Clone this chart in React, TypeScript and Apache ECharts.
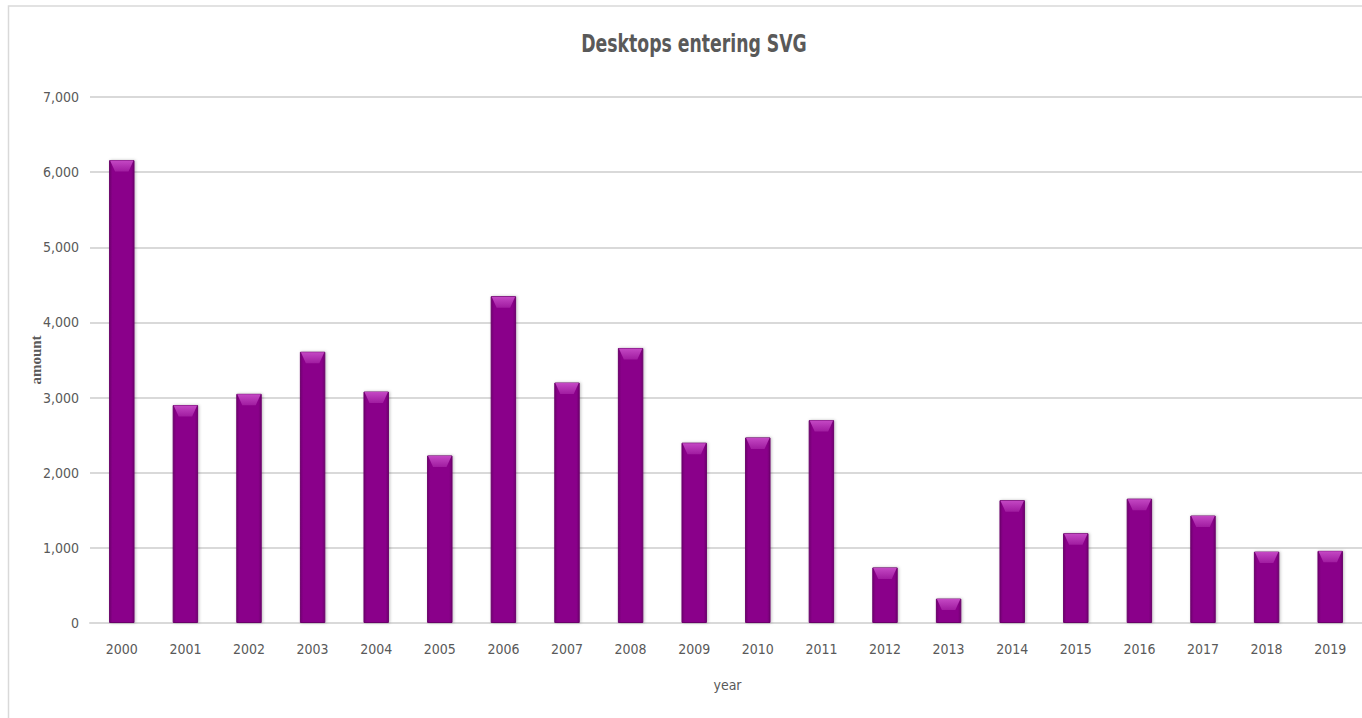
import React, { useEffect, useRef } from "react";
import * as echarts from "echarts";

const years = ["2000","2001","2002","2003","2004","2005","2006","2007","2008","2009","2010","2011","2012","2013","2014","2015","2016","2017","2018","2019"];
const amounts = [6160, 2900, 3050, 3610, 3080, 2230, 4350, 3200, 3660, 2400, 2470, 2700, 740, 325, 1635, 1195, 1655, 1430, 950, 960];
const yTicks = { min: 0, max: 7000, interval: 1000 };
const titleText = "Desktops entering SVG";
const xName = "year";
const yName = "amount";

const labelFont = "'Liberation Sans Narrow', 'DejaVu Sans Condensed', 'Open Sans', sans-serif";

export default function App() {
  const ref = useRef<HTMLDivElement>(null);
  useEffect(() => {
    if (!ref.current) return;
    const chart = echarts.init(ref.current, null, { renderer: "svg" });
    const gridLeft = 90;
    const gridTop = 97;
    const gridWidth = 1275;
    const gridHeight = 526;
    chart.setOption({
      animation: false,
      backgroundColor: "#ffffff",
      grid: { left: gridLeft, top: gridTop, width: gridWidth, height: gridHeight },
      graphic: [
        {
          type: "rect",
          shape: { x: 8.5, y: 6, width: 1420, height: 800 },
          style: { fill: "none", stroke: "#d9d9d9", lineWidth: 1.5 },
          silent: true,
          z: 0,
        },
        {
          type: "text",
          x: 694,
          y: 44,
          scaleX: 0.8,
          style: {
            text: titleText,
            fontFamily: labelFont,
            fontSize: 24,
            fontWeight: "bold",
            fill: "#595959",
            textAlign: "center",
            textVerticalAlign: "middle",
          },
        },
        {
          type: "text",
          x: gridLeft + gridWidth / 2,
          y: 685,
          style: {
            text: xName,
            fontFamily: labelFont,
            fontSize: 14,
            fill: "#595959",
            textAlign: "center",
            textVerticalAlign: "middle",
          },
        },
        {
          type: "text",
          x: 36,
          y: gridTop + gridHeight / 2,
          rotation: Math.PI / 2,
          style: {
            text: yName,
            fontFamily: "'Liberation Serif', 'DejaVu Serif', serif",
            fontSize: 15,
            fontWeight: "bold",
            fill: "#595959",
            textAlign: "center",
            textVerticalAlign: "middle",
          },
        },
      ],
      xAxis: {
        type: "category",
        data: years,
        axisLine: { show: true, lineStyle: { color: "#d9d9d9", width: 2 } },
        axisTick: { show: false },
        axisLabel: { color: "#595959", fontFamily: labelFont, fontSize: 14, margin: 19 },
      },
      yAxis: {
        type: "value",
        min: yTicks.min,
        max: yTicks.max,
        interval: yTicks.interval,
        axisLine: { show: false },
        axisTick: { show: false },
        splitLine: { lineStyle: { color: "#d9d9d9", width: 2 } },
        axisLabel: {
          color: "#595959",
          fontFamily: labelFont,
          fontSize: 14,
          margin: 11,
          formatter: (v: number) => v.toLocaleString("en-US"),
        },
      },
      series: [
        {
          type: "bar",
          data: amounts,
          barWidth: "40%",
          itemStyle: {
            color: {
              type: "linear", x: 0, y: 0, x2: 1, y2: 0,
              colorStops: [
                { offset: 0, color: "#720072" },
                { offset: 0.12, color: "#8a068a" },
                { offset: 0.88, color: "#8a068a" },
                { offset: 1, color: "#720072" },
              ],
            },
            borderColor: "#6a006a",
            borderWidth: 1,
            shadowColor: "rgba(0,0,0,0.25)",
            shadowBlur: 3,
            shadowOffsetX: 1,
            shadowOffsetY: 0,
          },
          z: 2,
        },
        {
          type: "custom",
          data: amounts.map((v, i) => [i, v]),
          z: 3,
          silent: true,
          renderItem: (params: any, api: any) => {
            const idx = api.value(0);
            const val = api.value(1);
            const top = api.coord([idx, val]);
            const band = api.size([1, 0])[0];
            const w = band * 0.4;
            const x0 = top[0] - w / 2;
            const x1 = top[0] + w / 2;
            const y0 = top[1] + 0.5;
            const h = 11;
            const inset = 6;
            return {
              type: "polygon",
              shape: {
                points: [
                  [x0 + 1, y0],
                  [x1 - 1, y0],
                  [x1 - inset, y0 + h],
                  [x0 + inset, y0 + h],
                ],
              },
              style: {
                fill: {
                  type: "linear", x: 0, y: 0, x2: 0, y2: 1,
                  colorStops: [
                    { offset: 0, color: "#c448c4" },
                    { offset: 1, color: "#a01ca0" },
                  ],
                },
                stroke: "none",
              },
            };
          },
        },
      ],
    });
    return () => chart.dispose();
  }, []);
  return (
    <div
      ref={ref}
      style={{ position: "fixed", left: 0, top: 0, width: 1362, height: 718 }}
    />
  );
}
